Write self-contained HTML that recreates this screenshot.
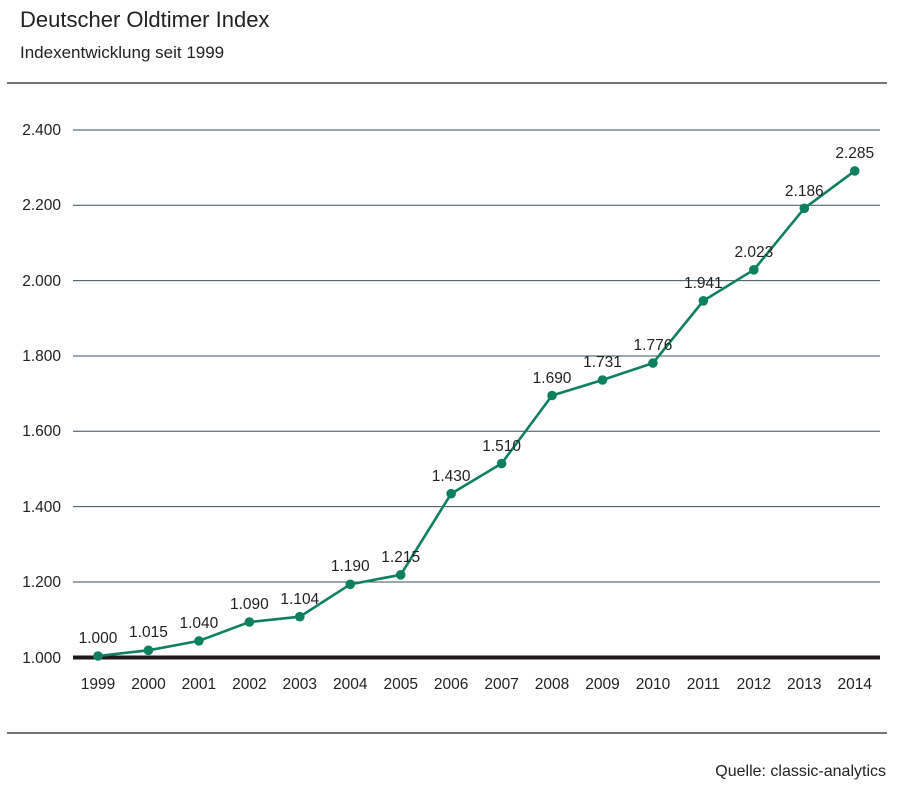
<!DOCTYPE html>
<html><head><meta charset="utf-8"><style>
body{margin:0;background:#fff;width:897px;height:789px;overflow:hidden;font-family:"Liberation Sans",sans-serif;}
</style></head><body>
<svg width="897" height="789" xmlns="http://www.w3.org/2000/svg" font-family="Liberation Sans, sans-serif" fill="#222">
<text x="20" y="27" font-size="22" fill="#222">Deutscher Oldtimer Index</text>
<text x="20" y="58" font-size="17">Indexentwicklung seit 1999</text>
<line x1="7" y1="83" x2="887" y2="83" stroke="#222" stroke-width="1.3"/>
<g stroke="#3d4f5a" stroke-width="1">
<line x1="73" y1="130" x2="880" y2="130"/>
<line x1="73" y1="205.3" x2="880" y2="205.3"/>
<line x1="73" y1="280.6" x2="880" y2="280.6"/>
<line x1="73" y1="356" x2="880" y2="356"/>
<line x1="73" y1="431.3" x2="880" y2="431.3"/>
<line x1="73" y1="506.6" x2="880" y2="506.6"/>
<line x1="73" y1="582" x2="880" y2="582"/>
</g>
<line x1="73" y1="657.5" x2="880" y2="657.5" stroke="#1e1a1c" stroke-width="4"/>
<g font-size="15.5" text-anchor="end">
<text x="61" y="135">2.400</text><text x="61" y="210">2.200</text><text x="61" y="286">2.000</text>
<text x="61" y="361">1.800</text><text x="61" y="436">1.600</text><text x="61" y="512">1.400</text>
<text x="61" y="587">1.200</text><text x="61" y="663">1.000</text>
</g>
<polyline fill="none" stroke="#0e8060" stroke-width="2.6" points="98,656 148.45,650.3 198.9,640.9 249.35,622 299.8,616.7 350.25,584.3 400.7,574.8 451.15,493.7 501.6,463.5 552.05,395.5 602.5,380 652.95,363.1 703.4,300.8 753.85,269.8 804.3,208.3 854.75,170.9"/>
<g fill="#0e8060">
<circle cx="98" cy="656" r="4.8"/><circle cx="148.45" cy="650.3" r="4.8"/><circle cx="198.9" cy="640.9" r="4.8"/><circle cx="249.35" cy="622" r="4.8"/>
<circle cx="299.8" cy="616.7" r="4.8"/><circle cx="350.25" cy="584.3" r="4.8"/><circle cx="400.7" cy="574.8" r="4.8"/><circle cx="451.15" cy="493.7" r="4.8"/>
<circle cx="501.6" cy="463.5" r="4.8"/><circle cx="552.05" cy="395.5" r="4.8"/><circle cx="602.5" cy="380" r="4.8"/><circle cx="652.95" cy="363.1" r="4.8"/>
<circle cx="703.4" cy="300.8" r="4.8"/><circle cx="753.85" cy="269.8" r="4.8"/><circle cx="804.3" cy="208.3" r="4.8"/><circle cx="854.75" cy="170.9" r="4.8"/>
</g>
<g font-size="15.5" text-anchor="middle">
<text x="98" y="643">1.000</text><text x="148.45" y="637">1.015</text><text x="198.9" y="628">1.040</text><text x="249.35" y="609">1.090</text>
<text x="299.8" y="604">1.104</text><text x="350.25" y="571">1.190</text><text x="400.7" y="562">1.215</text><text x="451.15" y="481">1.430</text>
<text x="501.6" y="451">1.510</text><text x="552.05" y="383">1.690</text><text x="602.5" y="367">1.731</text><text x="652.95" y="350">1.776</text>
<text x="703.4" y="288">1.941</text><text x="753.85" y="257">2.023</text><text x="804.3" y="196">2.186</text><text x="854.75" y="158">2.285</text>
</g>
<g font-size="15.5" text-anchor="middle">
<text x="98" y="689">1999</text><text x="148.45" y="689">2000</text><text x="198.9" y="689">2001</text><text x="249.35" y="689">2002</text>
<text x="299.8" y="689">2003</text><text x="350.25" y="689">2004</text><text x="400.7" y="689">2005</text><text x="451.15" y="689">2006</text>
<text x="501.6" y="689">2007</text><text x="552.05" y="689">2008</text><text x="602.5" y="689">2009</text><text x="652.95" y="689">2010</text>
<text x="703.4" y="689">2011</text><text x="753.85" y="689">2012</text><text x="804.3" y="689">2013</text><text x="854.75" y="689">2014</text>
</g>
<line x1="7" y1="733" x2="887" y2="733" stroke="#222" stroke-width="1.3"/>
<text x="886" y="776" font-size="16" text-anchor="end">Quelle: classic-analytics</text>
</svg>
</body></html>
